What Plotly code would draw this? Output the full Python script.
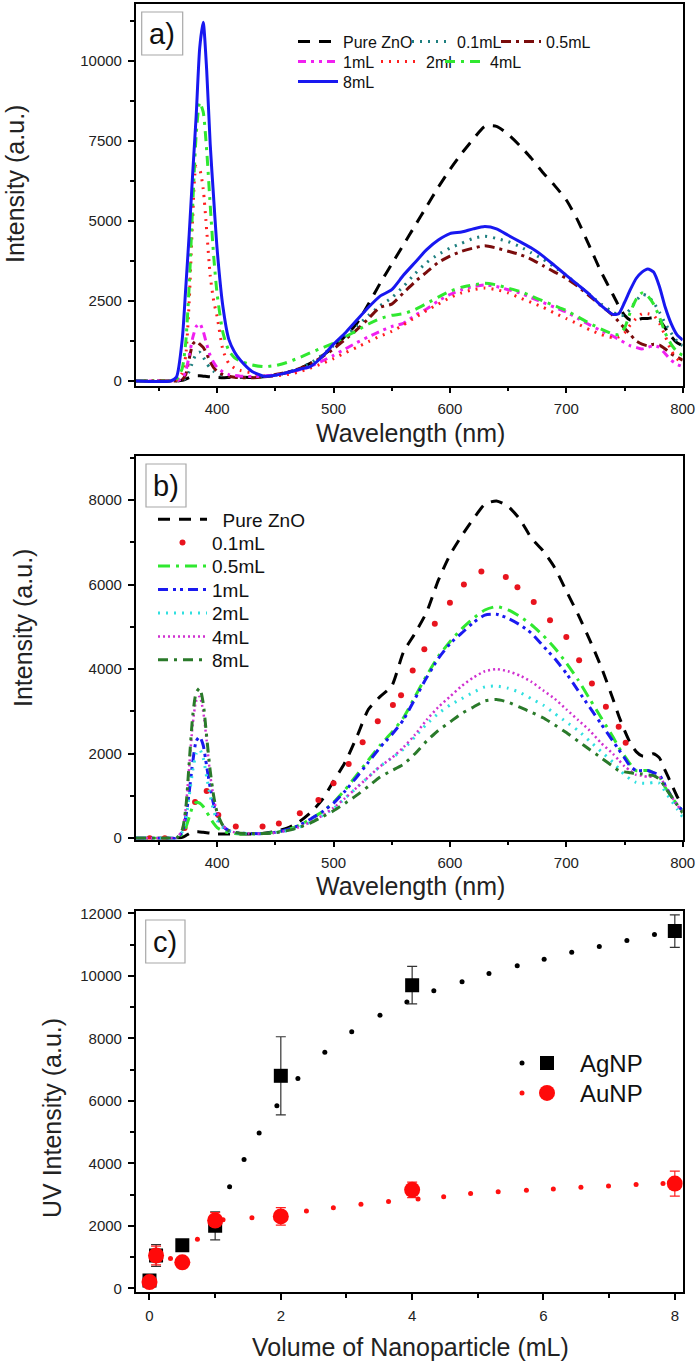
import plotly.graph_objects as go

W, H = 700, 1365
FONT = "Arial, Liberation Sans, sans-serif"

# ---------------- data ----------------
wl = [330, 360, 365, 370, 373, 376, 379, 382, 385, 388, 391, 394, 397, 400, 405, 410, 415, 420, 430, 440,
      450, 460, 470, 480, 490, 500, 510, 520, 530, 540, 550, 560, 570, 580, 590, 600, 610, 620, 630, 640,
      650, 660, 670, 680, 690, 700, 710, 720, 730, 740, 745, 750, 755, 760, 765, 770, 775, 780, 785, 790, 795, 800]

# panel a (AgNP series)
a_pure = [0, 0, 0, 20, 60, 110, 150, 160, 160, 150, 140, 130, 120, 110, 100, 110, 120, 120, 110, 130,
          180, 260, 380, 550, 780, 1050, 1400, 1800, 2400, 3050, 3650, 4250, 4850, 5450, 6050, 6600, 7100, 7550, 7950, 7950,
          7700, 7350, 6950, 6500, 6100, 5650, 5000, 4200, 3400, 2700, 2350, 2050, 1900, 1900, 1950, 1950, 1980, 1900, 1650, 1400, 1200, 1100]
a_01 = [0, 0, 0, 30, 100, 300, 600, 850, 900, 750, 550, 400, 300, 230, 170, 140, 120, 110, 110, 130,
        180, 260, 380, 560, 800, 1100, 1400, 1700, 2050, 2350, 2600, 2950, 3350, 3700, 3950, 4150, 4300, 4450, 4520, 4450,
        4350, 4200, 4000, 3800, 3550, 3300, 3000, 2700, 2400, 2150, 2050, 2050, 2250, 2500, 2700, 2650, 2450, 2150, 1800, 1500, 1250, 1100]
a_05 = [0, 0, 0, 50, 200, 700, 1150, 1250, 1150, 1050, 850, 600, 420, 300, 200, 150, 120, 100, 100, 130,
        200, 270, 380, 520, 750, 1000, 1300, 1600, 1950, 2300, 2400, 2750, 3100, 3400, 3700, 3900, 4050, 4150, 4220, 4150,
        4050, 3950, 3800, 3600, 3400, 3200, 2950, 2650, 2350, 2050, 1850, 1650, 1450, 1250, 1150, 1100, 1150, 1120, 1000, 850, 750, 650]
a_1 = [0, 0, 0, 80, 300, 800, 1350, 1700, 1800, 1550, 1150, 800, 580, 420, 280, 200, 170, 150, 140, 150,
       190, 250, 340, 450, 620, 800, 1000, 1200, 1380, 1550, 1700, 1800, 2050, 2250, 2500, 2700, 2850, 2950, 3000, 2950,
       2850, 2750, 2600, 2450, 2300, 2150, 1950, 1750, 1570, 1400, 1300, 1200, 1100, 1050, 1000, 1050, 1100, 1050, 850, 650, 520, 450]
a_2 = [0, 0, 30, 250, 800, 2500, 5100, 6700, 6600, 6000, 4700, 3300, 2500, 2000, 960, 550, 400, 330, 250, 160,
       160, 200, 280, 400, 540, 700, 880, 1050, 1230, 1400, 1550, 1750, 1980, 2200, 2400, 2600, 2750, 2850, 2900, 2850,
       2750, 2600, 2450, 2300, 2120, 1950, 1780, 1600, 1450, 1350, 1380, 1500, 1750, 1950, 2100, 2100, 2050, 1800, 1400, 950, 700, 550]
a_4 = [0, 0, 40, 400, 1200, 3000, 5500, 7700, 8700, 8400, 7200, 5500, 3900, 2700, 1500, 950, 720, 620, 500, 450,
       480, 580, 720, 880, 1030, 1180, 1380, 1570, 1780, 1950, 2050, 2100, 2230, 2420, 2620, 2800, 2930, 3000, 3050, 3000,
       2900, 2800, 2650, 2500, 2350, 2200, 2000, 1800, 1620, 1470, 1450, 1650, 2150, 2550, 2750, 2650, 2400, 2000, 1500, 1150, 920, 800]
a_8 = [0, 0, 120, 1300, 2900, 4600, 6500, 8300, 10400, 11200, 9700, 7400, 5700, 4100, 2300, 1300, 900, 650, 300, 150,
       180, 260, 360, 450, 750, 1150, 1500, 1900, 2300, 2650, 2850, 3300, 3700, 4100, 4400, 4600, 4650, 4750, 4820, 4750,
       4550, 4350, 4150, 3900, 3600, 3300, 3000, 2700, 2350, 2080, 2100, 2450, 2850, 3200, 3400, 3500, 3400, 2950, 2300, 1800, 1450, 1280]

# panel b (AuNP series)
b_pure = [0, 0, 0, 20, 60, 110, 140, 150, 150, 140, 130, 120, 110, 100, 100, 100, 100, 100, 100, 120,
          160, 240, 380, 600, 900, 1350, 1800, 2400, 3050, 3350, 3600, 4400, 4850, 5350, 6100, 6700, 7150, 7550, 7900, 7980,
          7850, 7550, 7100, 6800, 6400, 5850, 5300, 4700, 4050, 3300, 2900, 2550, 2250, 2050, 1950, 1950, 2000, 1900, 1600, 1300, 1000, 750]
b_05 = [0, 0, 0, 100, 250, 500, 750, 850, 830, 750, 620, 480, 350, 250, 170, 130, 110, 100, 100, 110,
        140, 200, 300, 450, 620, 850, 1150, 1500, 1850, 2200, 2500, 2850, 3350, 3850, 4300, 4650, 4950, 5200, 5400, 5480,
        5400, 5250, 5050, 4800, 4500, 4150, 3750, 3300, 2850, 2400, 2150, 1950, 1750, 1600, 1600, 1600, 1550, 1450, 1200, 1000, 800, 650]
b_1 = [0, 0, 0, 150, 500, 1100, 1800, 2300, 2400, 2200, 1700, 1200, 800, 500, 280, 180, 140, 120, 110, 110,
       140, 200, 300, 450, 620, 830, 1120, 1450, 1800, 2150, 2450, 2800, 3300, 3800, 4250, 4600, 4850, 5100, 5280, 5300,
       5200, 5050, 4850, 4550, 4250, 3900, 3500, 3100, 2700, 2300, 2100, 1900, 1700, 1600, 1600, 1600, 1550, 1500, 1250, 1000, 800, 650]
b_2 = [0, 0, 0, 150, 450, 1000, 1600, 2000, 2100, 1900, 1450, 1000, 650, 420, 250, 170, 130, 120, 110, 110,
       130, 180, 260, 380, 530, 700, 950, 1200, 1450, 1700, 1900, 2100, 2400, 2700, 2950, 3150, 3300, 3450, 3580, 3600,
       3550, 3450, 3300, 3150, 2950, 2750, 2550, 2300, 2050, 1800, 1650, 1500, 1400, 1320, 1300, 1300, 1320, 1300, 1100, 900, 700, 500]
b_4 = [0, 0, 0, 200, 700, 1700, 2700, 3250, 3350, 3000, 2300, 1500, 950, 600, 300, 180, 140, 120, 110, 110,
       130, 180, 260, 380, 530, 720, 950, 1200, 1450, 1700, 1900, 2150, 2450, 2800, 3100, 3350, 3600, 3800, 3950, 4000,
       3950, 3850, 3700, 3500, 3300, 3050, 2800, 2550, 2250, 2000, 1850, 1700, 1600, 1500, 1480, 1450, 1470, 1450, 1250, 1000, 800, 600]
b_8 = [0, 0, 0, 200, 700, 1800, 2900, 3450, 3550, 3200, 2400, 1600, 1000, 600, 300, 180, 140, 120, 110, 110,
       130, 180, 250, 360, 500, 650, 830, 1020, 1230, 1450, 1600, 1750, 2000, 2300, 2550, 2750, 2950, 3100, 3250, 3280,
       3220, 3100, 2980, 2850, 2680, 2500, 2300, 2100, 1900, 1700, 1600, 1570, 1550, 1530, 1520, 1500, 1480, 1400, 1200, 1000, 800, 600]
# 0.1 mL in panel b is drawn as widely spaced dots
b_01_wl = [342, 355, 372, 381, 391, 401, 416, 439, 453, 471, 487, 500, 513, 525, 538, 551, 558, 568, 578, 587,
           600, 612, 627, 648, 658, 672, 686, 700, 711, 722, 734, 745, 751]
b_01 = [0, 0, 240, 860, 1120, 550, 275, 275, 350, 590, 905, 1300, 1755, 2270, 2770, 3150, 3380, 3970, 4470, 5075,
        5570, 6000, 6310, 6180, 5940, 5590, 5155, 4760, 4210, 3660, 3110, 2640, 2260]

# panel c
vol = [0, 0.1, 0.5, 1, 2, 4, 8]
ag = [250, 1050, 1380, 2000, 6800, 9700, 11430]
ag_err = [150, 350, 150, 450, 1250, 600, 520]
au = [200, 1050, 830, 2170, 2300, 3150, 3350]
au_err = [150, 300, 100, 250, 280, 250, 400]
ag_fit_x = [1.22, 1.44, 1.67, 1.94, 2.26, 2.67, 3.08, 3.51, 3.92, 4.33, 4.76, 5.17, 5.60, 6.01, 6.43, 6.85, 7.27, 7.69]
ag_fit_y = [3250, 4120, 4970, 5840, 6710, 7550, 8210, 8740, 9160, 9520, 9810, 10070, 10320, 10530, 10750, 10940, 11130, 11320]
au_fit_x = [0.32, 0.73, 1.12, 1.56, 2.39, 2.80, 3.22, 3.64, 4.09, 4.48, 4.89, 5.31, 5.74, 6.15, 6.57, 6.99, 7.41, 7.82]
au_fit_y = [950, 1570, 2190, 2260, 2470, 2580, 2690, 2780, 2860, 2930, 3030, 3090, 3140, 3180, 3230, 3270, 3320, 3350]

# ---------------- helpers ----------------
def fx(p):
    return p / W

def fy(p):
    return 1 - p / H

fig = go.Figure()
legends = {}
_leg_n = [0]

def new_legend(sample_x, row_y, size, itemwidth, offset=14):
    _leg_n[0] += 1
    key = "legend" if _leg_n[0] == 1 else "legend%d" % _leg_n[0]
    legends[key] = dict(x=fx(sample_x - offset), y=fy(row_y), xanchor="left", yanchor="middle",
                        font=dict(family=FONT, size=size, color="#111"), itemwidth=itemwidth,
                        bgcolor="rgba(0,0,0,0)", borderwidth=0, tracegroupgap=0)
    return key

# panel a: name, values, colour, dash, legend sample position
a_styles = [
    ("Pure ZnO", a_pure, "#000000", "12px,9px", 307, 41.7),
    ("0.1mL", a_01, "#1e7f7f", "2px,6px", 421, 41.7),
    ("0.5mL", a_05, "#7a0c0c", "10px,5px,3px,5px", 510, 41.7),
    ("1mL", a_1, "#f020f0", "8px,5px,3px,5px,3px,5px", 307, 61.7),
    ("2ml", a_2, "#ff2020", "2px,6px", 390, 61.7),
    ("4mL", a_4, "#30e830", "10px,6px,3px,6px", 454, 61.7),
    ("8mL", a_8, "#1818f0", "solid", 307, 81.7),
]
for name, ys, col, dash, lx, ly in a_styles:
    leg = new_legend(lx, ly, 16, 40)
    fig.add_trace(go.Scatter(x=wl, y=ys, name=name, mode="lines",
                             line=dict(color=col, width=3, dash=dash, shape="spline", smoothing=0.6),
                             xaxis="x", yaxis="y", legend=leg))

# panel b
b_rows = [519.3 + 23.45 * i for i in range(7)]
leg = new_legend(167, b_rows[0], 19, 49)
fig.add_trace(go.Scatter(x=wl, y=b_pure, name="\u00a0\u00a0Pure ZnO", mode="lines",
                         line=dict(color="#000000", width=3, dash="12px,9px", shape="spline", smoothing=0.6),
                         xaxis="x2", yaxis="y2", legend=leg))
leg = new_legend(167, b_rows[1], 19, 49)
fig.add_trace(go.Scatter(x=b_01_wl, y=b_01, name="0.1mL", mode="markers",
                         marker=dict(color="#e8141e", size=6),
                         xaxis="x2", yaxis="y2", legend=leg))
b_styles = [
    ("0.5mL", b_05, "#30e830", "12px,6px,3px,6px", 3),
    ("1mL", b_1, "#1a1af0", "10px,5px,3px,4px,3px,5px", 3),
    ("2mL", b_2, "#30e0e0", "2px,6px", 3),
    ("4mL", b_4, "#d030d0", "2px,3px", 2.5),
    ("8mL", b_8, "#2a7a2a", "10px,6px,3px,6px", 3),
]
for i, (name, ys, col, dash, w) in enumerate(b_styles):
    leg = new_legend(167, b_rows[2 + i], 19, 49)
    fig.add_trace(go.Scatter(x=wl, y=ys, name=name, mode="lines",
                             line=dict(color=col, width=w, dash=dash, shape="spline", smoothing=0.6),
                             xaxis="x2", yaxis="y2", legend=leg))

# panel c
leg = new_legend(516, 1063.3, 24, 30)
fig.add_trace(go.Scatter(x=ag_fit_x, y=ag_fit_y, mode="markers", name="",
                         marker=dict(color="black", size=5), xaxis="x3", yaxis="y3", legend=leg))
leg = new_legend(516, 1093.3, 24, 30)
fig.add_trace(go.Scatter(x=au_fit_x, y=au_fit_y, mode="markers", name="",
                         marker=dict(color="#ff1010", size=5), xaxis="x3", yaxis="y3", legend=leg))
fig.add_trace(go.Scatter(x=vol, y=ag, mode="markers", showlegend=False,
                         marker=dict(color="black", size=1, opacity=0),
                         error_y=dict(type="data", array=ag_err, color="#333333", thickness=1.2, width=5),
                         xaxis="x3", yaxis="y3"))
fig.add_trace(go.Scatter(x=vol, y=au, mode="markers", showlegend=False,
                         marker=dict(color="red", size=1, opacity=0),
                         error_y=dict(type="data", array=au_err, color="#ff2020", thickness=1.2, width=5),
                         xaxis="x3", yaxis="y3"))
leg = new_legend(528, 1063.3, 24, 56)
fig.add_trace(go.Scatter(x=vol, y=ag, mode="markers", name="AgNP",
                         marker=dict(color="black", size=14, symbol="square"),
                         xaxis="x3", yaxis="y3", legend=leg))
leg = new_legend(528, 1093.3, 24, 56)
fig.add_trace(go.Scatter(x=vol, y=au, mode="markers", name="AuNP",
                         marker=dict(color="#ff0a0a", size=16, symbol="circle"),
                         xaxis="x3", yaxis="y3", legend=leg))

# ---------------- axes ----------------
XD = [fx(135.7), fx(682.7)]
common = dict(showgrid=False, zeroline=False, showline=True, mirror=True, linecolor="black",
              linewidth=1.5, ticks="outside", ticklen=6, tickwidth=1.5, tickcolor="black",
              tickfont=dict(family=FONT, size=15, color="#222"), ticklabelstandoff=3, tickformat="d")
minor = dict(ticks="outside", ticklen=4, tickwidth=1.5, tickcolor="black", showgrid=False)

fig.update_layout(
    xaxis=dict(domain=XD, anchor="y", range=[330, 800], tick0=0, dtick=100,
               minor=dict(dtick=50, **minor), **common),
    yaxis=dict(domain=[fy(385.7), fy(4)], anchor="x", range=[-147, 11770], tick0=0, dtick=2500,
               minor=dict(dtick=1250, **minor), **common),
    xaxis2=dict(domain=XD, anchor="y2", range=[330, 800], tick0=0, dtick=100,
                minor=dict(dtick=50, **minor), **common),
    yaxis2=dict(domain=[fy(839.5), fy(455.7)], anchor="x2", range=[-30, 9050], tick0=0, dtick=2000,
                minor=dict(dtick=1000, **minor), **common),
    xaxis3=dict(domain=XD, anchor="y3", range=[-0.21, 8.12], tick0=0, dtick=2,
                minor=dict(dtick=1, **minor), **common),
    yaxis3=dict(domain=[fy(1292.3), fy(910.7)], anchor="x3", range=[-128, 12083], tick0=0, dtick=2000,
                minor=dict(dtick=1000, **minor), **common),
)
fig.update_layout(**legends)

# ---------------- panel labels & titles ----------------
boxes = [("a)", 141.7, 12, 182.7, 55), ("b)", 146, 464, 186, 507), ("c)", 145.7, 920, 185, 963)]
shapes = []
annotations = []
for lab, x0, y0, x1, y1 in boxes:
    shapes.append(dict(type="rect", xref="paper", yref="paper", x0=fx(x0), x1=fx(x1), y0=fy(y1), y1=fy(y0),
                       line=dict(color="#a8a8a8", width=1.2)))
    annotations.append(dict(text=lab, x=fx((x0 + x1) / 2), y=fy((y0 + y1) / 2), xref="paper", yref="paper",
                            showarrow=False, xanchor="center", yanchor="middle",
                            font=dict(family=FONT, size=29, color="#111")))

titles = [
    ("Intensity (a.u.)", 15, 184, -90),
    ("Wavelength (nm)", 410, 433, 0),
    ("Intensity (a.u.)", 23, 628, -90),
    ("Wavelength (nm)", 410, 886, 0),
    ("UV Intensity (a.u.)", 52, 1118, -90),
    ("Volume of Nanoparticle (mL)", 410, 1347, 0),
]
for t, x, y, ang in titles:
    annotations.append(dict(text=t, x=fx(x), y=fy(y), xref="paper", yref="paper", showarrow=False,
                            xanchor="center", yanchor="middle", textangle=ang,
                            font=dict(family=FONT, size=25, color="#222")))

fig.update_layout(
    width=W, height=H, margin=dict(l=0, r=0, t=0, b=0, autoexpand=False),
    paper_bgcolor="white", plot_bgcolor="white",
    shapes=shapes, annotations=annotations,
    font=dict(family=FONT),
)

fig.write_html("out.html", config={"displayModeBar": False},
               post_script="document.body.style.margin='0';document.body.style.overflow='hidden';"
                           "document.documentElement.style.overflow='hidden';")
